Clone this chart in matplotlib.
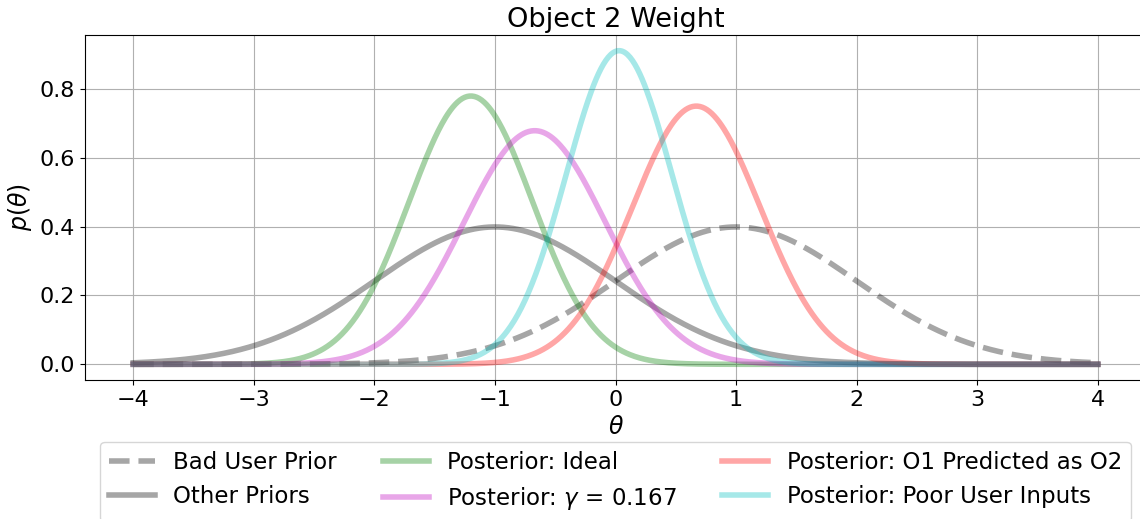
import numpy as np
import matplotlib
matplotlib.use("Agg")
import matplotlib.pyplot as plt

# Curve parameters (peak location and peak height -> spread)
labels = ["Bad User Prior", "Other Priors", "Posterior: Ideal",
          "Posterior: $\\gamma$ = 0.167", "Posterior: O1 Predicted as O2",
          "Posterior: Poor User Inputs"]
means = [1.0, -1.0, -1.2, -0.67, 0.67, 0.03]
sigmas = [1.0, 1.0, 0.512, 0.588, 0.532, 0.438]
colors = ["k", "k", "g", "m", "r", "c"]
styles = ["--", "-", "-", "-", "-", "-"]
theta_min, theta_max = -4.0, 4.0

fig = plt.figure(figsize=(11.4, 5.19), dpi=100)
ax = fig.add_axes([85 / 1140, 1 - 380 / 519, (1146 - 85) / 1140, (380 - 35) / 519])

theta = np.linspace(theta_min, theta_max, 801)
for lab, mu, sd, c, ls in zip(labels, means, sigmas, colors, styles):
    p = np.exp(-0.5 * ((theta - mu) / sd) ** 2) / (sd * np.sqrt(2 * np.pi))
    ax.plot(theta, p, ls, color=c, alpha=0.35, lw=4, label=lab)

ax.grid(True)
ax.set_title("Object 2 Weight", fontsize=19.5)
ax.set_xlabel(r"$\theta$", fontsize=17)
ax.set_ylabel(r"$p(\theta)$", fontsize=17)
ax.tick_params(labelsize=16)
ax.legend(loc="upper center", bbox_to_anchor=(0.5, -0.146), ncol=3, fontsize=16.5)

fig.savefig("out.png", dpi=100)
